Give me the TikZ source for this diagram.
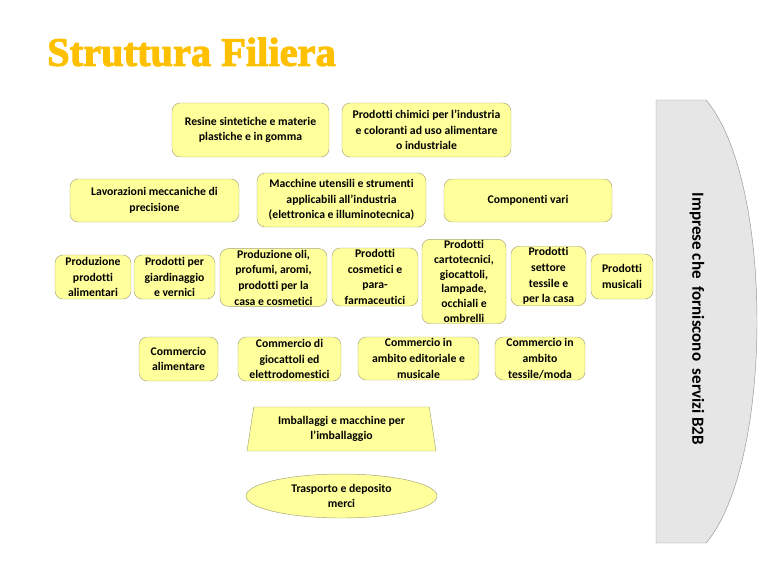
\documentclass[tikz,border=0pt]{standalone}
\usepackage{fontspec}
\setmainfont{Carlito}[Ligatures=NoCommon]
\newfontfamily\titlefont{Liberation Serif}[BoldFeatures={FakeBold=2.5}]
\usetikzlibrary{shapes.geometric}

\definecolor{boxfill}{RGB}{255,255,155}
\definecolor{boxline}{RGB}{165,165,120}
\definecolor{titlegold}{RGB}{255,192,0}
\definecolor{sidefill}{RGB}{230,230,230}
\definecolor{sideline}{RGB}{150,150,150}

\begin{document}
\begin{tikzpicture}[
  x=0.03cm, y=-0.03cm,
  sz/.style 2 args = {minimum width=#1*0.03cm, minimum height=#2*0.03cm},
  box/.style = {draw=boxline, fill=boxfill, rounded corners=7, align=center, inner sep=1pt,
                font=\fontsize{10}{13.4}\selectfont\bfseries},
  trap/.style = {box, rounded corners=0, trapezium, trapezium left angle=76.5, trapezium right angle=76.5,
                 trapezium stretches body},
  oval/.style = {box, rounded corners=0, ellipse}
  ]
\useasboundingbox (0,0) rectangle (768,576);
\node[titlegold, anchor=west, inner sep=0pt, font=\titlefont\fontsize{34.5}{36}\selectfont\bfseries] (title) at (47,52) {Struttura Filiera};

% fornitori
\node[box, sz={157}{54}] (resine) at (250.5,130) {Resine sintetiche e materie\\plastiche e in gomma};
\node[box, sz={169}{54}] (chimici) at (426.5,130) {Prodotti chimici per l'industria\\e coloranti ad uso alimentare\\o industriale};
\node[box, sz={169}{43}] (lavoraz) at (154.5,200.5) {Lavorazioni meccaniche di\\precisione};
\node[box, sz={169}{54}] (macchine) at (341.5,200) {Macchine utensili e strumenti\\applicabili all'industria\\(elettronica e illuminotecnica)};
\node[box, sz={168}{43}] (compon) at (528,200.5) {Componenti vari};

% produzione
\node[box, sz={76}{44}] (alim) at (93,277) {Produzione\\prodotti\\alimentari};
\node[box, sz={81}{44}] (giard) at (174.5,277) {Prodotti per\\giardinaggio\\e vernici};
\node[box, sz={107}{57}] (oli) at (273.5,277.5) {Produzione oli,\\profumi, aromi,\\prodotti per la\\casa e cosmetici};
\node[box, sz={86}{58}] (cosm) at (375,277) {Prodotti\\cosmetici e\\para-\\farmaceutici};
\node[box, sz={84}{83}, font=\fontsize{10}{12.6}\selectfont\bfseries] (carto) at (464,281.5) {Prodotti\\cartotecnici,\\giocattoli,\\lampade,\\occhiali e\\ombrelli};
\node[box, sz={75}{58}] (tessile) at (548.5,276) {Prodotti\\settore\\tessile e\\per la casa};
\node[box, sz={62}{45}] (music) at (622,276.5) {Prodotti\\musicali};

% commercio
\node[box, sz={79}{44}] (comalim) at (178.5,359) {Commercio\\alimentare};
\node[box, sz={103}{44}] (comgioc) at (289.5,359) {Commercio di\\giocattoli ed\\elettrodomestici};
\node[box, sz={121}{43}] (comedit) at (418.5,358.5) {Commercio in\\ambito editoriale e\\musicale};
\node[box, sz={90}{43}] (comtess) at (540,358.5) {Commercio in\\ambito\\tessile/moda};

% servizi
\node[trap, sz={189}{44}] (imball) at (341.5,429) {Imballaggi e macchine per\\l'imballaggio};
\node[oval, sz={191}{44}, inner sep=0pt] (trasp) at (341.5,496) {Trasporto e deposito\\merci};

% imprese B2B
\draw[draw=sideline, fill=sidefill] (656,100) -- (706,100)
  .. controls (740,140) and (757,230) .. (757,321)
  .. controls (757,412) and (740,503) .. (706,543) -- (656,543) -- cycle;
\node[rotate=-90, font=\fontsize{14.5}{16}\selectfont\bfseries] (b2b) at (697,319) {Imprese che~ forniscono~ servizi B2B};
\end{tikzpicture}
\end{document}
